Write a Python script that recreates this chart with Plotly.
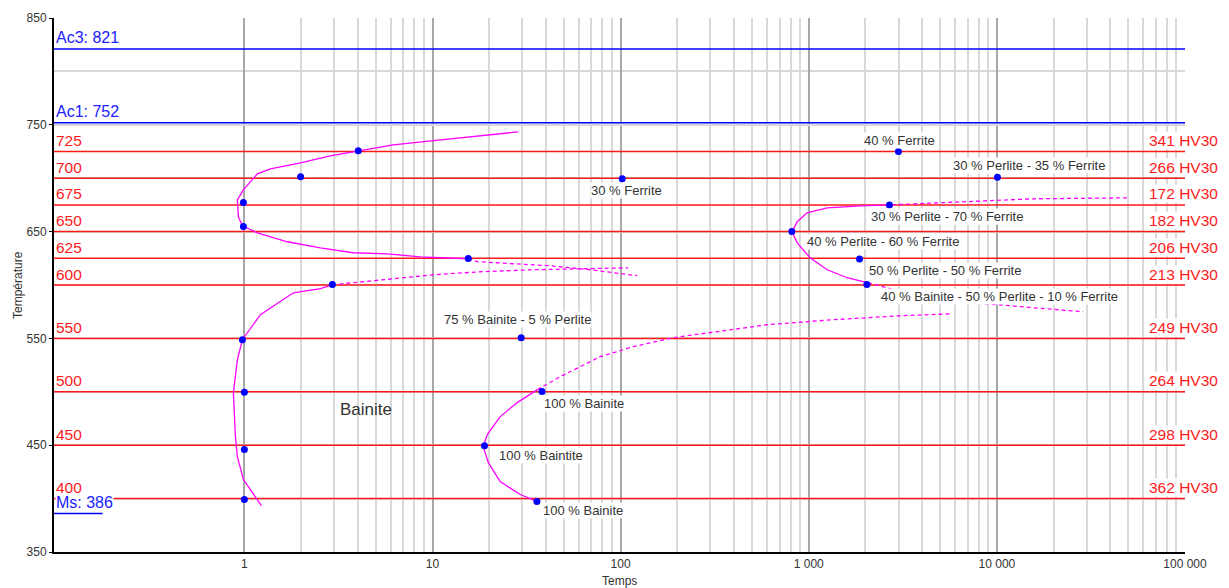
import math
import plotly.graph_objects as go

# ---------------- data (time in s, temperature in °C) ----------------
ferrite_start_t = [28.6, 19.6, 9.85, 6.19, 4.03, 2.86, 1.99, 1.375, 1.172, 1.103, 0.988, 0.918,
                   0.929, 0.976, 1.172, 1.692, 2.534, 3.795, 5.75, 8.61, 12.9, 15.5]
ferrite_start_T = [743.4, 740.6, 734.9, 731.2, 725.6, 720.9, 714.4, 708.7, 704.1, 698.5, 689.1, 679.7,
                   663.8, 655.4, 648.9, 640.5, 634.8, 630.2, 629.2, 626.4, 625.5, 624.6]
ferrite_ext_t = [15.5, 17.3, 42.3, 68.9, 122.5]
ferrite_ext_T = [624.6, 621.8, 618.0, 614.3, 608.7]

bainite_upper_ext_t = [2.935, 5.48, 10.1, 17.95, 34.3, 109.7]
bainite_upper_ext_T = [600.2, 604.9, 609.6, 612.4, 614.3, 616.1]

bainite_start_t = [2.935, 2.534, 1.821, 1.216, 0.976, 0.918, 0.874, 0.896, 0.918, 0.988, 1.076, 1.231]
bainite_start_T = [600.2, 596.5, 592.7, 572.2, 548.8, 530.1, 499.2, 458.0, 439.3, 417.8, 408.5, 393.5]

bainite_end_t = [36.1, 29.3, 22.9, 19.8, 18.6, 19.55, 22.9, 28.2, 36.1]
bainite_end_T = [397.2, 403.8, 415.9, 433.7, 448.7, 459.9, 476.8, 489.9, 502.0]
bainite_end_ext_t = [36.1, 47.8, 77.9, 116.7, 190.3, 326, 601, 1348, 3059, 5781]
bainite_end_ext_T = [502.0, 514.2, 532.9, 542.2, 550.7, 556.3, 562.8, 567.5, 571.2, 573.1]

pearlite_t = [2775, 1876, 1253, 980, 868, 816, 868, 1017, 1253, 1600, 2068]
pearlite_T = [675.1, 674.1, 672.3, 667.6, 659.2, 649.8, 639.5, 625.5, 614.3, 606.8, 602.1]
pearlite_upper_ext_t = [2775, 6945, 15570, 49800]
pearlite_upper_ext_T = [675.1, 677.9, 680.7, 681.6]
pearlite_lower_ext_t = [2068, 3908, 6945, 10400, 15570, 28710]
pearlite_lower_ext_T = [602.1, 589.0, 583.4, 581.5, 578.7, 575.0]

# measured points
plain_pts_t = [4.03, 1.99, 0.988, 0.988, 15.5, 2.935, 0.976, 1.0, 1.0, 1.0]
plain_pts_T = [725.6, 701.3, 677.2, 654.8, 624.8, 600.5, 548.8, 499.5, 446.0, 399.1]
label_pts_t = [102, 29.6, 38.2, 18.9, 35.9, 2998, 10070, 2684, 813, 1862, 2037]
label_pts_T = [699.4, 550.7, 500.2, 449.6, 397.2, 725, 701, 675, 650, 624.3, 600.5]
label_pts_text = ["30 % Ferrite", "75 % Bainite - 5 % Perlite", "100 % Bainite", "100 % Baintite",
                  "100 % Bainite", "40 % Ferrite", "30 % Perlite - 35 % Ferrite",
                  "30 % Perlite - 70 % Ferrite", "40 % Perlite - 60 % Ferrite",
                  "50 % Perlite - 50 % Ferrite", "40 % Bainite - 50 % Perlite - 10 % Ferrite"]
label_offsets = [(4, -12), (-4, 18), (42, -12), (56, -10), (46, -9), (1, 11), (32, 12),
                 (58, -12), (91, -10), (85, -11), (133, -12)]

region_label = "Bainite"
region_label_t = 4.45
region_label_T = 483.3

iso_temps = [725, 700, 675, 650, 625, 600, 550, 500, 450, 400]
hardness = ["341 HV30", "266 HV30", "172 HV30", "182 HV30", "206 HV30", "213 HV30",
            "249 HV30", "264 HV30", "298 HV30", "362 HV30"]

crit_names = ["Ac3", "Ac1"]
crit_temps = [821, 752]
ms_temp = 386

x_range_log = [-1.012, 5]
x_major = [1, 10, 100, 1000, 10000, 100000]
x_major_text = ["1", "10", "100", "1 000", "10 000", "100 000"]
x_minor = [m * d for d in [1, 10, 100, 1000, 10000] for m in range(2, 10)]
y_major = [350, 450, 550, 650, 750, 850]
y_minor = [400, 500, 600, 700, 800]

# ---------------- figure ----------------
FONT = "Liberation Sans, Arial, sans-serif"
MAG = "#ff00ff"
X_LO, X_HI = 10 ** x_range_log[0], 10 ** x_range_log[1]
fig = go.Figure()

# horizontal reference lines (isotherms and critical temperatures) spanning the axis
for T in iso_temps:
    fig.add_trace(go.Scatter(x=[X_LO, X_HI], y=[T, T], mode="lines", hoverinfo="skip",
                             line=dict(color="#ff1a1a", width=1.5)))
for T in crit_temps:
    fig.add_trace(go.Scatter(x=[X_LO, X_HI], y=[T, T], mode="lines", hoverinfo="skip",
                             line=dict(color="#0000ff", width=1.5)))


def curve(t, T, dash=None):
    fig.add_trace(go.Scatter(x=t, y=T, mode="lines", hoverinfo="skip",
                             line=dict(color=MAG, width=1.3, dash=dash or "solid")))


curve(ferrite_start_t, ferrite_start_T)
curve(ferrite_ext_t, ferrite_ext_T, "4px,3px")
curve(bainite_upper_ext_t, bainite_upper_ext_T, "4px,3px")
curve(bainite_start_t, bainite_start_T)
curve(bainite_end_t, bainite_end_T)
curve(bainite_end_ext_t, bainite_end_ext_T, "4px,3px")
curve(pearlite_t, pearlite_T)
curve(pearlite_upper_ext_t, pearlite_upper_ext_T, "4px,3px")
curve(pearlite_lower_ext_t, pearlite_lower_ext_T, "4px,3px")

fig.add_trace(go.Scatter(x=plain_pts_t + label_pts_t, y=plain_pts_T + label_pts_T, mode="markers",
                         marker=dict(color="#0000ff", size=7), hoverinfo="skip"))

shapes = [dict(type="line", xref="paper", x0=0, x1=0.043, yref="y", y0=ms_temp, y1=ms_temp,
               line=dict(color="#0000ff", width=1.5), layer="above")]
annotations = []
for T, hv in zip(iso_temps, hardness):
    annotations.append(dict(xref="paper", x=0, xanchor="left", xshift=1, yref="y", y=T, yshift=11,
                            text=str(T), showarrow=False, bgcolor="white", borderpad=0,
                            font=dict(family=FONT, size=15.5, color="#ff1a1a")))
    annotations.append(dict(xref="paper", x=1, xanchor="right", xshift=34, yref="y", y=T, yshift=11,
                            text=hv, showarrow=False, bgcolor="white", borderpad=0,
                            font=dict(family=FONT, size=15.5, color="#ff1a1a")))
for name, T in zip(crit_names, crit_temps):
    annotations.append(dict(xref="paper", x=0, xanchor="left", xshift=1, yref="y", y=T, yshift=11,
                            text=f"{name}: {T}", showarrow=False, bgcolor="white", borderpad=0,
                            font=dict(family=FONT, size=16, color="#2020ff")))
annotations.append(dict(xref="paper", x=0, xanchor="left", xshift=1, yref="y", y=ms_temp, yshift=11,
                        text=f"Ms: {ms_temp}", showarrow=False, bgcolor="white", borderpad=0,
                        font=dict(family=FONT, size=16, color="#2020ff")))

for t, T, txt, (dx, dy) in zip(label_pts_t, label_pts_T, label_pts_text, label_offsets):
    annotations.append(dict(x=math.log10(t), y=T, xref="x", yref="y", text=txt, showarrow=False,
                            xshift=dx, yshift=dy, bgcolor="white", borderpad=0,
                            font=dict(family=FONT, size=13, color="#333333")))

annotations.append(dict(x=math.log10(region_label_t), y=region_label_T, xref="x", yref="y",
                        text=region_label, showarrow=False,
                        font=dict(family=FONT, size=17, color="#333333")))
annotations.append(dict(xref="paper", yref="paper", x=0.5, y=0, yanchor="top", yshift=-20,
                        text="Temps", showarrow=False, font=dict(family=FONT, size=12, color="#333333")))
annotations.append(dict(xref="paper", yref="paper", x=0, y=0.5, xanchor="center", xshift=-36,
                        textangle=-90, text="Température", showarrow=False,
                        font=dict(family=FONT, size=12, color="#333333")))

fig.update_layout(
    width=1229, height=588,
    margin=dict(l=54, r=44, t=18, b=36, autoexpand=False),
    paper_bgcolor="white", plot_bgcolor="white",
    showlegend=False,
    shapes=shapes, annotations=annotations,
    font=dict(family=FONT, size=12, color="#333333"),
    xaxis=dict(type="log", range=x_range_log, tickmode="array", tickvals=x_major, ticktext=x_major_text,
               showgrid=True, gridcolor="#a8a8a8", gridwidth=1.5,
               minor=dict(tickmode="array", tickvals=x_minor, showgrid=True, gridcolor="#d9d9d9",
                          gridwidth=1.5, ticks=""),
               showline=True, linecolor="black", linewidth=2, ticks="", zeroline=False,
               tickfont=dict(family=FONT, size=12, color="#333333")),
    yaxis=dict(range=[350, 850], tickmode="array", tickvals=y_major,
               showgrid=True, gridcolor="#d9d9d9", gridwidth=1.5,
               minor=dict(tickmode="array", tickvals=y_minor, showgrid=True, gridcolor="#d9d9d9",
                          gridwidth=1.5, ticks=""),
               showline=True, linecolor="black", linewidth=2, ticks="outside", ticklen=3,
               tickcolor="black", zeroline=False,
               tickfont=dict(family=FONT, size=12, color="#333333")),
)

fig.write_html("out.html", config={"displayModeBar": False},
               post_script="document.body.style.margin='0';")
